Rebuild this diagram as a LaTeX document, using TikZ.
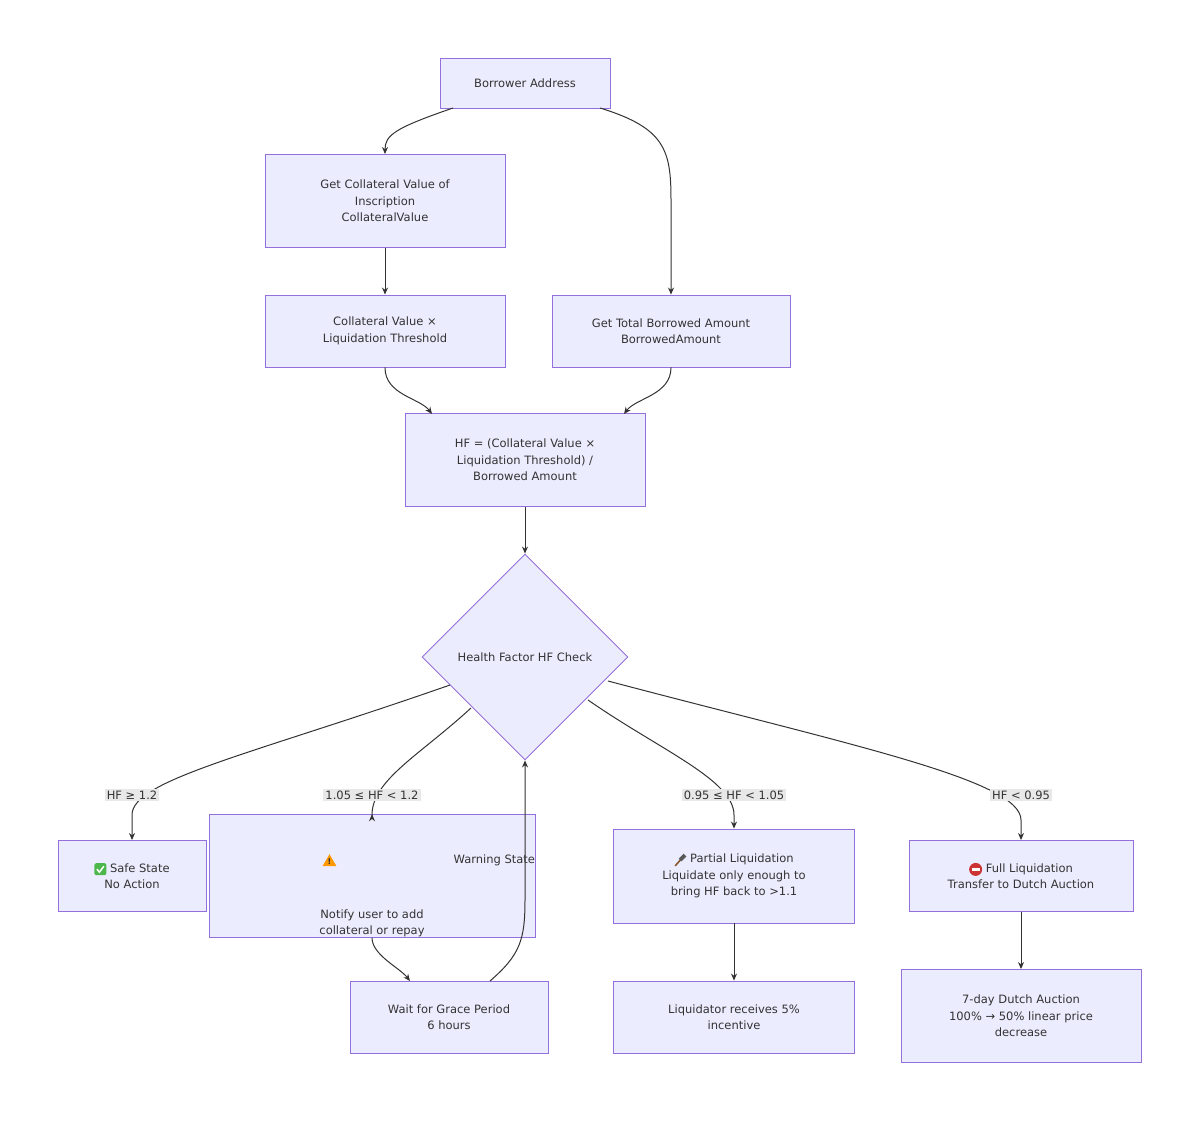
\documentclass[tikz,border=0pt]{standalone}
\usepackage{fontspec}
\setmainfont{DejaVu Sans}
\usetikzlibrary{shapes.geometric,arrows.meta}
\definecolor{nf}{HTML}{ECECFF}\definecolor{nb}{HTML}{9370DB}\definecolor{ln}{HTML}{333333}\definecolor{lb}{HTML}{E8E8E8}
\tikzset{x=1pt,y=-1pt,
 box/.style={draw=nb,fill=nf,line width=0.9pt,align=center,font=\fontsize{11.5}{16.5}\selectfont,text=ln,inner sep=0pt},
 e/.style={draw=ln,line width=1pt,-{Stealth[length=7pt,width=6pt]}},
 el/.style={fill=lb,font=\fontsize{11.5}{14}\selectfont,text=ln,inner sep=2pt}}
\newcommand{\okicon}{\tikz[baseline=-3pt,x=1pt,y=1pt]{\fill[green!60!black!70!white,rounded corners=2pt](-6,-6) rectangle (6,6);\draw[white,line width=1.5pt](-3.5,0)--(-1,-3)--(3.5,3);}}
\newcommand{\warnicon}{\tikz[baseline=-3pt,x=1pt,y=1pt]{\fill[orange!80!yellow](-7,-6)--(7,-6)--(0,6)--cycle;\node[font=\bfseries\fontsize{8}{8}\selectfont] at (0,-1.5){!};}}
\newcommand{\hammericon}{\tikz[baseline=-3pt,x=1pt,y=1pt]{\draw[brown!70!black,line width=1.6pt](-5,-6)--(2,2);\fill[gray!70!black,rotate around={45:(2,2)}](-1,0) rectangle (6,4);}}
\newcommand{\stopicon}{\tikz[baseline=-3pt,x=1pt,y=1pt]{\fill[red!75!black!80!white](0,0) circle(6.5);\fill[white](-4,-1.3) rectangle (4,1.3);}}
\begin{document}
\begin{tikzpicture}
\useasboundingbox (0,0) rectangle (1200,1123);
\node[box,minimum width=170,minimum height=50] (bor) at (525,83) {Borrower Address};
\node[box,minimum width=240,minimum height=93] (col) at (385,201) {Get Collateral Value of\\Inscription\\CollateralValue};
\node[box,minimum width=240,minimum height=72] (clt) at (385,331) {Collateral Value ×\\Liquidation Threshold};
\node[box,minimum width=238,minimum height=72] (tot) at (671,331) {Get Total Borrowed Amount\\BorrowedAmount};
\node[box,minimum width=240,minimum height=93] (hf) at (525,460) {HF = (Collateral Value ×\\Liquidation Threshold) /\\Borrowed Amount};
\node[box,diamond,minimum width=206,minimum height=206] (chk) at (525,657) {Health Factor HF Check};
\node[box,minimum width=148,minimum height=71] (safe) at (132,876) {\okicon\ Safe State\\No Action};
\node[box,minimum width=241,minimum height=94] (warn) at (372,876) {\warnicon\ Warning State\\Notify user to add\\collateral or repay};
\node[box,minimum width=241,minimum height=94] (part) at (734,876) {\hammericon\ Partial Liquidation\\Liquidate only enough to\\bring HF back to >1.1};
\node[box,minimum width=224,minimum height=71] (full) at (1021,876) {\stopicon\ Full Liquidation\\Transfer to Dutch Auction};
\node[box,minimum width=198,minimum height=72] (wait) at (449,1017) {Wait for Grace Period\\6 hours};
\node[box,minimum width=241,minimum height=72] (liq) at (734,1017) {Liquidator receives 5\%\\incentive};
\node[box,minimum width=240,minimum height=93] (dut) at (1021,1016) {7-day Dutch Auction\\100\% → 50\% linear price\\decrease};
\coordinate (b1) at (453,108); \coordinate (b2) at (600,108);
\draw[e] (b1) .. controls (395,128) and (385,135) .. (col.north);
\draw[e] (b2) .. controls (665,128) and (671,150) .. (671,200) -- (tot.north);
\draw[e] (col) -- (clt);
\draw[e] (clt.south) .. controls (385,395) and (420,398) .. (432,414);
\draw[e] (tot.south) .. controls (671,395) and (636,398) .. (624,414);
\draw[e] (hf) -- (chk.north);
\coordinate (d1) at (450,685); \coordinate (d2) at (471,708); \coordinate (d3) at (588,700); \coordinate (d4) at (608,681);
\draw[e] (d1) .. controls (250,755) and (132,780) .. (132,815) -- (safe.north);
\draw[e] (d2) .. controls (420,755) and (372,780) .. (372,815) -- (warn.north);
\draw[e] (d3) .. controls (660,750) and (734,780) .. (734,815) -- (part.north);
\draw[e] (d4) .. controls (850,745) and (1021,780) .. (1021,820) -- (full.north);
\node[el] (l1) at (132,795) {HF ≥ 1.2};
\node[el] (l2) at (372,795) {1.05 ≤ HF < 1.2};
\node[el] (l3) at (734,795) {0.95 ≤ HF < 1.05};
\node[el] (l4) at (1021,795) {HF < 0.95};
\coordinate (w1) at (410,981); \coordinate (w2) at (490,981);
\draw[e] (warn.south) .. controls (372,955) and (400,968) .. (w1);
\draw[e] (w2) .. controls (520,955) and (525,940) .. (525,900) -- (chk.south);
\draw[e] (part) -- (liq);
\draw[e] (full) -- (dut);
\end{tikzpicture}
\end{document}
